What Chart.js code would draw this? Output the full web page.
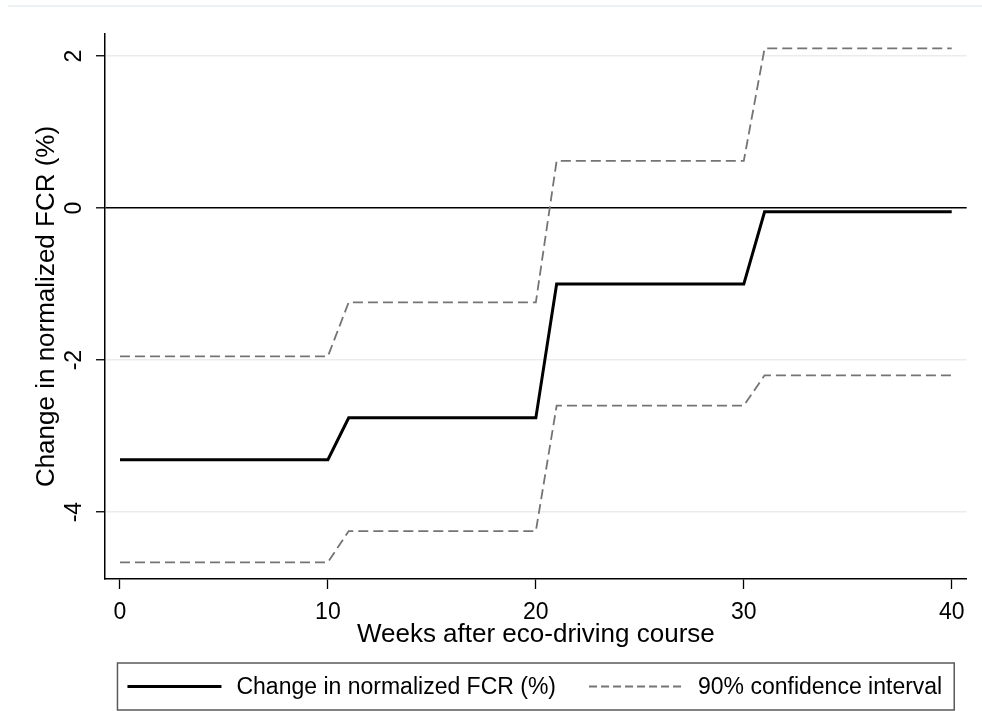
<!DOCTYPE html>
<html>
<head>
<meta charset="utf-8">
<script src="https://cdn.jsdelivr.net/npm/chart.js@4/dist/chart.umd.min.js"></script>
<style>
  html, body { margin: 0; padding: 0; background: #ffffff; }
  #c { display: block; }
</style>
</head>
<body>
<canvas id="c" width="982" height="711"></canvas>
<script>
// ---- data ----
const weeks = [0, 10, 11, 20, 21, 30, 31, 40];
const effect = [-3.31, -3.31, -2.76, -2.76, -1.0, -1.0, -0.05, -0.05];
const ciUpper = [-1.95, -1.95, -1.24, -1.24, 0.62, 0.62, 2.1, 2.1];
const ciLower = [-4.66, -4.66, -4.25, -4.25, -2.6, -2.6, -2.2, -2.2];
const xTicks = [0, 10, 20, 30, 40];
const yTicks = [-4, -2, 0, 2];
const labelEffect = 'Change in normalized FCR (%)';
const labelCI = '90% confidence interval';
const xTitle = 'Weeks after eco-driving course';
const yTitle = 'Change in normalized FCR (%)';

const FONT = '"Liberation Sans", Arial, sans-serif';

const toXY = (ys) => weeks.map((w, i) => ({ x: w, y: ys[i] }));

const legendPlugin = {
  id: 'stataLegend',
  afterDraw(chart) {
    const ctx = chart.ctx;
    ctx.save();
    // faint outer frame line at top
    ctx.strokeStyle = '#e6edf0';
    ctx.lineWidth = 1.5;
    ctx.beginPath();
    ctx.moveTo(8, 6);
    ctx.lineTo(chart.width, 6);
    ctx.stroke();

    // legend box
    const items = [chart.data.datasets[0], chart.data.datasets[1]];
    ctx.font = '23px ' + FONT;
    const sample = 94, gapText = 15, gapItem = 33, padL = 10, padR = 12;
    let total = padL + padR;
    items.forEach((d, i) => {
      total += sample + gapText + ctx.measureText(d.label).width;
      if (i < items.length - 1) total += gapItem;
    });
    const cx = (chart.chartArea.left + chart.chartArea.right) / 2;
    const boxLeft = cx - total / 2;
    const boxTop = 663, boxH = 47;
    ctx.strokeStyle = '#5a5a5a';
    ctx.lineWidth = 1.5;
    ctx.strokeRect(boxLeft, boxTop, total, boxH);
    const cy = boxTop + boxH / 2;
    let x = boxLeft + padL;
    items.forEach((d) => {
      ctx.save();
      ctx.strokeStyle = d.borderColor;
      ctx.lineWidth = d.borderWidth;
      ctx.setLineDash(d.legendDash || []);
      ctx.beginPath();
      ctx.moveTo(x, cy);
      ctx.lineTo(x + sample, cy);
      ctx.stroke();
      ctx.restore();
      x += sample + gapText;
      ctx.fillStyle = '#000';
      ctx.textBaseline = 'middle';
      ctx.textAlign = 'left';
      ctx.fillText(d.label, x, cy + 1);
      x += ctx.measureText(d.label).width + gapItem;
    });
    ctx.restore();
  }
};

new Chart(document.getElementById('c'), {
  type: 'line',
  data: {
    datasets: [
      {
        label: labelEffect,
        data: toXY(effect),
        borderColor: '#000000',
        borderWidth: 3,
        pointRadius: 0,
        tension: 0,
        order: 0
      },
      {
        label: labelCI,
        data: toXY(ciUpper),
        borderColor: '#747474',
        borderWidth: 1.8,
        borderDash: [10, 5],
        legendDash: [8, 4],
        pointRadius: 0,
        tension: 0,
        order: 1
      },
      {
        label: labelCI,
        data: toXY(ciLower),
        borderColor: '#747474',
        borderWidth: 1.8,
        borderDash: [10, 5],
        pointRadius: 0,
        tension: 0,
        order: 1
      }
    ]
  },
  options: {
    responsive: false,
    animation: false,
    layout: { padding: { left: 31.4, top: 34, right: 15.3, bottom: 60.4 } },
    plugins: {
      legend: { display: false },
      tooltip: { enabled: false }
    },
    scales: {
      x: {
        type: 'linear',
        min: -0.72,
        max: 40.72,
        afterBuildTicks: (s) => { s.ticks = xTicks.map(v => ({ value: v })); },
        afterFit: (s) => { s.height = 71.6; },
        grid: {
          drawOnChartArea: false,
          drawTicks: true,
          tickLength: 10,
          tickColor: '#000',
          tickWidth: 1.3
        },
        border: { display: true, color: '#000', width: 1.5 },
        ticks: {
          color: '#000',
          font: { family: FONT, size: 23 },
          padding: 10,
          maxRotation: 0,
          autoSkip: false
        },
        title: {
          display: true,
          text: xTitle,
          color: '#000',
          font: { family: FONT, size: 26 },
          padding: 0
        }
      },
      y: {
        type: 'linear',
        min: -4.88,
        max: 2.29,
        afterBuildTicks: (s) => { s.ticks = yTicks.map(v => ({ value: v })); },
        afterFit: (s) => { s.width = 73.6; },
        grid: {
          color: (c) => (c.tick && c.tick.value === 0) ? '#000000' : '#ebebeb',
          lineWidth: (c) => (c.tick && c.tick.value === 0) ? 1.6 : 1.5,
          drawTicks: true,
          tickLength: 9,
          tickColor: '#000',
          tickWidth: 1.3
        },
        border: { display: true, color: '#000', width: 1.5 },
        ticks: {
          color: '#000',
          font: { family: FONT, size: 23 },
          padding: 11,
          minRotation: 90,
          maxRotation: 90,
          crossAlign: 'center',
          autoSkip: false
        },
        title: {
          display: true,
          text: yTitle,
          color: '#000',
          font: { family: FONT, size: 26 },
          padding: 0
        }
      }
    }
  },
  plugins: [legendPlugin]
});
</script>
</body>
</html>
